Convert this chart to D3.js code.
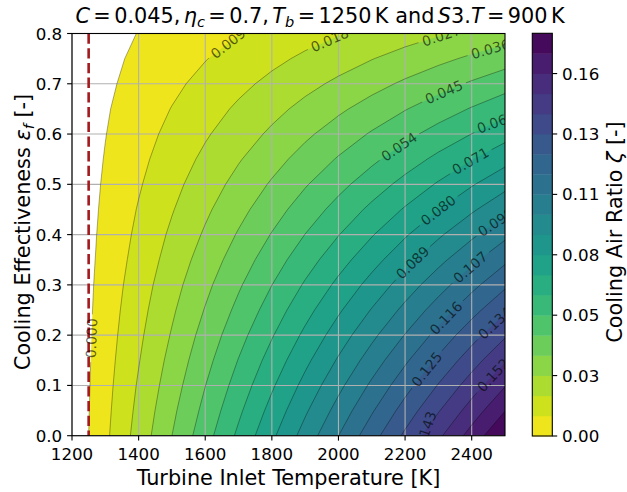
<!DOCTYPE html>
<html>
<head>
<meta charset="utf-8">
<script src="https://cdnjs.cloudflare.com/ajax/libs/d3/7.8.5/d3.min.js"></script>
<style>
body { margin: 0; background: #fff; }
text { font-family: "DejaVu Sans", sans-serif; }
</style>
</head>
<body>
<div id="chart"></div>
<script>
// turbine inlet temperature grid [K]
var temps = [1200, 1300, 1400, 1500, 1600, 1700, 1800, 1900, 2000, 2100, 2200, 2300, 2400, 2500];
// cooling effectiveness grid [-]
var effs = [0, 0.05, 0.1, 0.15, 0.2, 0.25, 0.3, 0.35, 0.4, 0.45, 0.5, 0.55, 0.6, 0.65, 0.7, 0.75, 0.8];
// cooling air ratio, one row per effectiveness value
var zeta = [
  [-0.0071, 0.0071, 0.0214, 0.0357, 0.0500, 0.0643, 0.0786, 0.0929, 0.1071, 0.1214, 0.1357, 0.1500, 0.1643, 0.1786],
  [-0.0070, 0.0065, 0.0201, 0.0337, 0.0472, 0.0608, 0.0744, 0.0880, 0.1015, 0.1151, 0.1287, 0.1422, 0.1558, 0.1694],
  [-0.0069, 0.0059, 0.0188, 0.0316, 0.0445, 0.0573, 0.0702, 0.0831, 0.0959, 0.1088, 0.1216, 0.1345, 0.1473, 0.1602],
  [-0.0068, 0.0053, 0.0174, 0.0296, 0.0417, 0.0539, 0.0660, 0.0782, 0.0903, 0.1024, 0.1146, 0.1267, 0.1389, 0.1510],
  [-0.0067, 0.0047, 0.0161, 0.0275, 0.0390, 0.0504, 0.0618, 0.0733, 0.0847, 0.0961, 0.1075, 0.1190, 0.1304, 0.1418],
  [-0.0066, 0.0041, 0.0148, 0.0255, 0.0362, 0.0469, 0.0576, 0.0684, 0.0791, 0.0898, 0.1005, 0.1112, 0.1219, 0.1326],
  [-0.0065, 0.0035, 0.0135, 0.0235, 0.0335, 0.0435, 0.0535, 0.0635, 0.0735, 0.0835, 0.0935, 0.1035, 0.1135, 0.1235],
  [-0.0064, 0.0028, 0.0121, 0.0214, 0.0307, 0.0400, 0.0493, 0.0586, 0.0678, 0.0771, 0.0864, 0.0957, 0.1050, 0.1143],
  [-0.0063, 0.0022, 0.0108, 0.0194, 0.0279, 0.0365, 0.0451, 0.0537, 0.0622, 0.0708, 0.0794, 0.0879, 0.0965, 0.1051],
  [-0.0062, 0.0016, 0.0095, 0.0173, 0.0252, 0.0330, 0.0409, 0.0488, 0.0566, 0.0645, 0.0723, 0.0802, 0.0880, 0.0959],
  [-0.0061, 0.0010, 0.0081, 0.0153, 0.0224, 0.0296, 0.0367, 0.0439, 0.0510, 0.0581, 0.0653, 0.0724, 0.0796, 0.0867],
  [-0.0060, 0.0004, 0.0068, 0.0132, 0.0197, 0.0261, 0.0325, 0.0390, 0.0454, 0.0518, 0.0582, 0.0647, 0.0711, 0.0775],
  [-0.0059, -0.0002, 0.0055, 0.0112, 0.0169, 0.0226, 0.0283, 0.0341, 0.0398, 0.0455, 0.0512, 0.0569, 0.0626, 0.0683],
  [-0.0058, -0.0008, 0.0042, 0.0092, 0.0142, 0.0192, 0.0242, 0.0292, 0.0342, 0.0392, 0.0442, 0.0492, 0.0542, 0.0592],
  [-0.0057, -0.0015, 0.0028, 0.0071, 0.0114, 0.0157, 0.0200, 0.0243, 0.0285, 0.0328, 0.0371, 0.0414, 0.0457, 0.0500],
  [-0.0056, -0.0021, 0.0015, 0.0051, 0.0086, 0.0122, 0.0158, 0.0194, 0.0229, 0.0265, 0.0301, 0.0336, 0.0372, 0.0408],
  [-0.0055, -0.0027, 0.0002, 0.0030, 0.0059, 0.0087, 0.0116, 0.0145, 0.0173, 0.0202, 0.0230, 0.0259, 0.0287, 0.0316]
];
// contour levels
var levels = [0, 0.00893, 0.01786, 0.02679, 0.03571, 0.04464, 0.05357, 0.0625, 0.07143, 0.08036, 0.08929,
              0.09821, 0.10714, 0.11607, 0.125, 0.13393, 0.14286, 0.15179, 0.16071, 0.16964, 0.17857];
var cbTicks = [0, 0.02679, 0.05357, 0.08036, 0.10714, 0.13393, 0.16071];
var xTicks = [1200, 1400, 1600, 1800, 2000, 2200, 2400];
var yTicks = [0, 0.1, 0.2, 0.3, 0.4, 0.5, 0.6, 0.7, 0.8];
var bladeTemp = 1250;
// contour label spots: [level index, T, eps]
var labelSpots = [[0, 1254, 0.194], [1, 1668, 0.781], [2, 1974, 0.787], [3, 2311, 0.791], [4, 2455, 0.773],
                  [5, 2314, 0.688], [6, 2181, 0.576], [7, 2470, 0.628], [8, 2395, 0.548], [9, 2296, 0.451],
                  [10, 2221, 0.345], [11, 2470, 0.427], [12, 2392, 0.338], [13, 2317, 0.238], [14, 2263, 0.133],
                  [15, 2467, 0.226], [16, 2260, 0.011], [17, 2464, 0.121]];

var W = 627, H = 492;
var L = 72, R = 505, T = 33.5, B = 435.7;

var svg = d3.select("#chart").append("svg").attr("width", W).attr("height", H);
svg.append("rect").attr("width", W).attr("height", H).attr("fill", "white");

var x = d3.scaleLinear().domain([1200, 2500]).range([L, R]);
var y = d3.scaleLinear().domain([0, 0.8]).range([B, T]);
// d3.contours puts grid point i at coordinate i + 0.5
var gx = d3.scaleLinear().domain([0.5, temps.length - 0.5]).range([temps[0], temps[temps.length - 1]]);
var gy = d3.scaleLinear().domain([0.5, effs.length - 0.5]).range([effs[0], effs[effs.length - 1]]);
var proj = d3.geoTransform({point: function(px, py) { this.stream.point(x(gx(px)), y(gy(py))); }});
var path = d3.geoPath(proj);

var nb = levels.length - 1;
var bands = d3.contours().size([temps.length, effs.length]).thresholds(levels.slice(0, nb))(zeta.flat());
var color = function(k) { return d3.interpolateViridis(1 - (k + 0.5) / nb); };

var defs = svg.append("defs");
defs.append("clipPath").attr("id", "plotClip").append("rect")
    .attr("x", L).attr("y", T).attr("width", R - L).attr("height", B - T);
var mask = defs.append("mask").attr("id", "gapMask").attr("maskUnits", "userSpaceOnUse")
    .attr("x", 0).attr("y", 0).attr("width", W).attr("height", H);
mask.append("rect").attr("width", W).attr("height", H).attr("fill", "white");

// filled bands
svg.append("g").attr("clip-path", "url(#plotClip)")
  .selectAll("path").data(bands).join("path")
    .attr("d", path)
    .attr("fill", function(d, i) { return color(i); });

// grid
var grid = svg.append("g").attr("stroke", "#b0b0b0").attr("stroke-width", 1.1);
xTicks.forEach(function(v) {
  grid.append("line").attr("x1", x(v)).attr("x2", x(v)).attr("y1", T).attr("y2", B);
});
yTicks.forEach(function(v) {
  grid.append("line").attr("x1", L).attr("x2", R).attr("y1", y(v)).attr("y2", y(v));
});

// contour lines
svg.append("g").attr("clip-path", "url(#plotClip)")
  .append("g").attr("mask", "url(#gapMask)")
  .selectAll("path").data(bands).join("path")
    .attr("d", path)
    .attr("fill", "none")
    .attr("stroke", "black")
    .attr("stroke-opacity", 0.55)
    .attr("stroke-width", 0.6);

// blade temperature line
svg.append("line")
    .attr("x1", x(bladeTemp)).attr("x2", x(bladeTemp)).attr("y1", T).attr("y2", B)
    .attr("stroke", "#a31a1f").attr("stroke-width", 2.6)
    .attr("stroke-dasharray", "10.3,4.4");

// contour labels
function ringsPx(k) {
  var out = [];
  bands[k].coordinates.forEach(function(poly) {
    poly.forEach(function(ring) {
      out.push(ring.map(function(p) { return [x(gx(p[0])), y(gy(p[1]))]; }));
    });
  });
  return out;
}
function pointAt(r, s, a) {
  a = Math.max(0, Math.min(s[s.length - 1], a));
  var i = Math.max(1, d3.bisectLeft(s, a));
  var f = (a - s[i - 1]) / ((s[i] - s[i - 1]) || 1);
  return [r[i - 1][0] + f * (r[i][0] - r[i - 1][0]), r[i - 1][1] + f * (r[i][1] - r[i - 1][1])];
}
function placeLabel(k, t, e) {
  var tx = x(t), ty = y(e), best = null;
  ringsPx(k).forEach(function(r) {
    var s = [0];
    for (var i = 1; i < r.length; i++) s.push(s[i - 1] + Math.hypot(r[i][0] - r[i - 1][0], r[i][1] - r[i - 1][1]));
    for (var j = 1; j < r.length; j++) {
      var ax = r[j - 1][0], ay = r[j - 1][1], dx = r[j][0] - ax, dy = r[j][1] - ay, l2 = dx * dx + dy * dy;
      if (!l2) continue;
      var u = Math.max(0, Math.min(1, ((tx - ax) * dx + (ty - ay) * dy) / l2));
      var px = ax + u * dx, py = ay + u * dy, d = Math.hypot(px - tx, py - ty);
      if (!best || d < best.d) best = {d: d, r: r, s: s, at: s[j - 1] + u * Math.sqrt(l2), px: px, py: py};
    }
  });
  var A = pointAt(best.r, best.s, best.at - 12), Bp = pointAt(best.r, best.s, best.at + 12);
  var ang = Math.atan2(Bp[1] - A[1], Bp[0] - A[0]) * 180 / Math.PI;
  if (ang > 90) ang -= 180;
  if (ang < -90) ang += 180;
  return {x: best.px, y: best.py, a: ang};
}

var labG = svg.append("g").attr("clip-path", "url(#plotClip)");
var fmt3 = d3.format(".3f");
labelSpots.forEach(function(sp) {
  var p = placeLabel(sp[0], sp[1], sp[2]);
  var tr = "translate(" + p.x + "," + p.y + ") rotate(" + p.a + ")";
  var t = labG.append("text")
      .attr("transform", tr)
      .attr("text-anchor", "middle")
      .attr("dy", "0.36em")
      .style("font-size", "13.9px")
      .attr("fill", "black")
      .attr("fill-opacity", 0.62)
      .text(fmt3(levels[sp[0]]));
  var w = t.node().getComputedTextLength() + 8;
  mask.append("rect")
      .attr("transform", tr)
      .attr("x", -w / 2).attr("y", -4.5).attr("width", w).attr("height", 9)
      .attr("fill", "black");
});

// frame and ticks
svg.append("rect").attr("x", L).attr("y", T).attr("width", R - L).attr("height", B - T)
    .attr("fill", "none").attr("stroke", "black").attr("stroke-width", 1.1);

var fmt1 = d3.format(".1f");
xTicks.forEach(function(v) {
  svg.append("line").attr("x1", x(v)).attr("x2", x(v)).attr("y1", B).attr("y2", B + 4.9)
      .attr("stroke", "black").attr("stroke-width", 1.1);
  svg.append("text").attr("x", x(v)).attr("y", 459.5).attr("text-anchor", "middle")
      .style("font-size", "16.7px").text(v);
});
yTicks.forEach(function(v) {
  svg.append("line").attr("x1", L - 4.9).attr("x2", L).attr("y1", y(v)).attr("y2", y(v))
      .attr("stroke", "black").attr("stroke-width", 1.1);
  svg.append("text").attr("x", 62.2).attr("y", y(v) + 6).attr("text-anchor", "end")
      .style("font-size", "16.7px").text(fmt1(v));
});

// axis labels
svg.append("text").attr("x", (L + R) / 2).attr("y", 485).attr("text-anchor", "middle")
    .style("font-size", "20.8px").text("Turbine Inlet Temperature [K]");

function richText(sel, parts) {
  var shift = 0;
  parts.forEach(function(p) {
    var ts = sel.append("tspan").text(p[0]);
    var sub = p[1] === "sub";
    if (p[1] === "i" || sub) ts.style("font-style", "italic");
    if (sub) ts.style("font-size", "14.6px");
    var want = sub ? 4.2 : 0;
    if (want !== shift) { ts.attr("dy", want - shift); shift = want; }
  });
}

var yl = svg.append("text").attr("transform", "translate(30,232) rotate(-90)")
    .attr("text-anchor", "middle").style("font-size", "20.8px").style("white-space", "pre");
richText(yl, [["Cooling Effectiveness "], ["ε", "i"], ["f", "sub"], [" [-]"]]);

var tl = svg.append("text").attr("x", 320).attr("y", 22.5).attr("text-anchor", "middle")
    .style("font-size", "20.8px").style("white-space", "pre").style("word-spacing", "-3.2px");
richText(tl, [["C", "i"], [" = 0.045, "], ["η", "i"], ["c", "sub"], [" = 0.7, "], ["T", "i"], ["b", "sub"],
              [" = 1250 K  and "], ["S", "i"], ["3."], ["T", "i"], [" = 900 K"]]);

// colorbar
var cx0 = 532.3, cw = 20;
var cb = d3.scaleLinear().domain([levels[0], levels[nb]]).range([436, 33.3]);
var cbG = svg.append("g");
d3.range(nb).forEach(function(k) {
  cbG.append("rect").attr("x", cx0).attr("width", cw)
      .attr("y", cb(levels[k + 1])).attr("height", cb(levels[k]) - cb(levels[k + 1]) + 0.4)
      .attr("fill", color(k));
});
cbG.append("rect").attr("x", cx0).attr("y", cb(levels[nb])).attr("width", cw)
    .attr("height", cb(levels[0]) - cb(levels[nb]))
    .attr("fill", "none").attr("stroke", "black").attr("stroke-width", 1.1);
var fmt2 = d3.format(".2f");
cbTicks.forEach(function(v) {
  cbG.append("line").attr("x1", cx0 + cw).attr("x2", cx0 + cw + 4.9).attr("y1", cb(v)).attr("y2", cb(v))
      .attr("stroke", "black").attr("stroke-width", 1.1);
  cbG.append("text").attr("x", cx0 + cw + 9.8).attr("y", cb(v) + 6)
      .style("font-size", "16.7px").text(fmt2(v));
});
var cl = svg.append("text").attr("transform", "translate(622,232) rotate(-90)")
    .attr("text-anchor", "middle").style("font-size", "20.8px").style("white-space", "pre");
richText(cl, [["Cooling Air Ratio "], ["ζ", "i"], [" [-]"]]);
</script>
</body>
</html>
